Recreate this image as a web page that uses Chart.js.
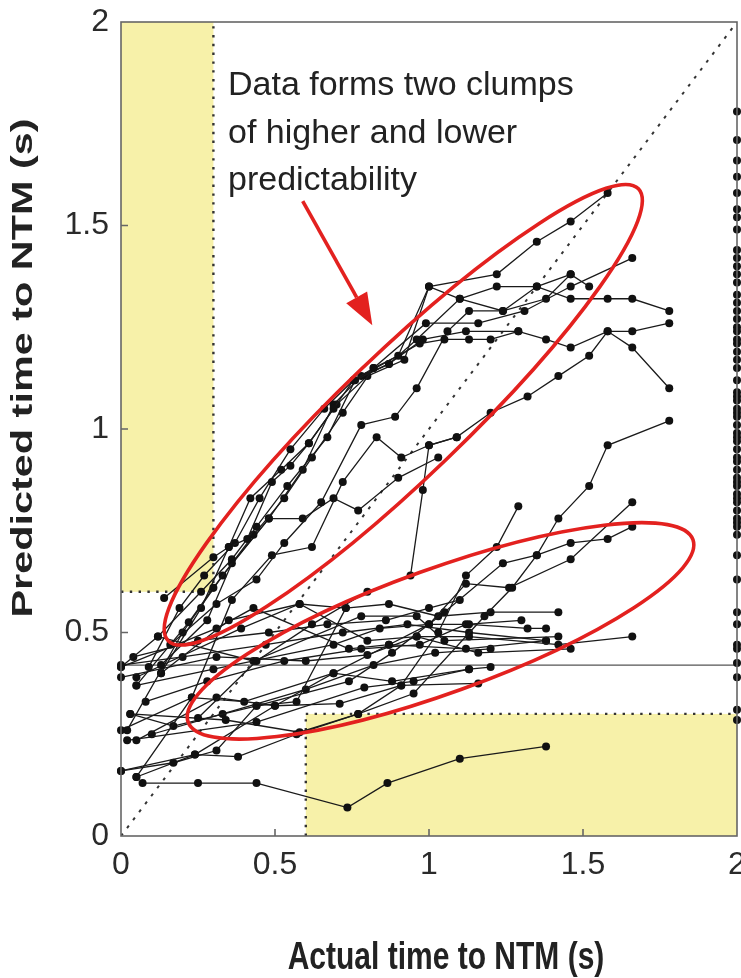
<!DOCTYPE html>
<html lang="en">
  <head>
    <meta charset="UTF-8" />
    <title>Predicted vs actual time to NTM</title>
    <style>
      body {
        margin: 0;
        background: #fff;
        overflow: hidden;
      }
      canvas {
        display: block;
      }
    </style>
  </head>
  <body>
    <canvas id="ntmChart" width="741" height="978"></canvas>

    <script src="https://cdn.jsdelivr.net/npm/chart.js"></script>
    <script>
      // tick labels on both axes
      const tickValues = [0, 0.5, 1, 1.5, 2];

      // trajectories in the upper clump (actual, predicted)
      const upperTracks = [
        [[0.14, 0.585], [0.3, 0.685], [0.35, 0.71], [0.41, 0.73], [0.49, 0.87], [0.55, 0.91], [0.61, 0.965], [0.69, 1.05], [0.755, 1.12], [0.82, 1.15], [0.9, 1.18], [1.0, 1.35], [1.22, 1.38], [1.35, 1.46], [1.46, 1.51], [1.58, 1.58]],
        [[0.0, 0.415], [0.12, 0.49], [0.26, 0.6], [0.36, 0.68], [0.44, 0.76], [0.54, 0.86], [0.67, 0.98], [0.76, 1.12], [0.87, 1.16], [0.96, 1.22], [1.1, 1.32], [1.22, 1.35], [1.35, 1.35], [1.46, 1.32], [1.58, 1.32], [1.66, 1.32], [1.78, 1.29]],
        [[0.05, 0.37], [0.22, 0.525], [0.3, 0.61], [0.43, 0.74], [0.53, 0.83], [0.62, 0.93], [0.72, 1.04], [0.82, 1.15], [0.99, 1.26], [1.16, 1.26], [1.31, 1.29], [1.46, 1.35], [1.66, 1.42]],
        [[0.13, 0.42], [0.28, 0.53], [0.36, 0.67], [0.48, 0.78], [0.59, 0.9], [0.69, 1.06], [0.78, 1.13], [0.97, 1.21], [1.05, 1.22], [1.13, 1.22], [1.2, 1.22], [1.29, 1.24], [1.38, 1.22], [1.46, 1.2], [1.58, 1.24], [1.66, 1.24], [1.78, 1.26]],
        [[0.16, 0.47], [0.31, 0.57], [0.44, 0.63], [0.53, 0.72], [0.65, 0.82], [0.78, 1.01], [0.89, 1.03], [0.96, 1.1], [1.06, 1.24], [1.13, 1.29], [1.24, 1.29], [1.38, 1.32], [1.46, 1.38], [1.52, 1.35]],
        [[0.05, 0.145], [0.23, 0.34], [0.36, 0.58], [0.49, 0.69], [0.62, 0.71], [0.72, 0.87], [0.83, 0.98], [0.91, 0.93], [1.0, 0.96], [1.09, 0.98], [1.2, 1.04], [1.32, 1.08], [1.42, 1.13], [1.52, 1.18], [1.58, 1.24], [1.66, 1.2], [1.78, 1.1]],
        [[0.25, 0.29], [0.44, 0.43], [0.62, 0.52], [0.8, 0.6], [0.94, 0.64], [0.98, 0.85], [1.0, 0.96], [1.09, 0.98]],
        [[0.02, 0.26], [0.2, 0.5], [0.33, 0.64], [0.48, 0.78], [0.59, 0.78], [0.69, 0.83], [0.77, 0.8], [0.9, 0.88], [1.03, 0.93]],
        [[0.09, 0.415], [0.19, 0.56], [0.27, 0.64], [0.37, 0.72], [0.45, 0.83], [0.55, 0.95], [0.66, 1.05], [0.755, 1.12], [0.87, 1.16], [0.98, 1.22], [1.12, 1.24], [1.29, 1.24]],
        [[0.13, 0.4], [0.26, 0.56], [0.35, 0.71], [0.42, 0.83], [0.52, 0.9], [0.61, 0.965], [0.7, 1.06], [0.8, 1.13], [0.92, 1.17], [1.0, 1.35], [1.1, 1.32], [1.24, 1.29], [1.35, 1.35], [1.46, 1.38]],
      ];

      // trajectories in the lower clump
      const lowerTracks = [
        [[0.0, 0.16], [0.24, 0.2], [0.38, 0.195], [0.57, 0.25], [0.77, 0.3], [0.95, 0.35], [1.18, 0.54], [1.27, 0.61], [1.35, 0.69], [1.42, 0.78], [1.52, 0.86], [1.58, 0.96], [1.78, 1.02]],
        [[0.05, 0.235], [0.31, 0.34], [0.5, 0.32], [0.71, 0.325], [0.91, 0.37], [1.03, 0.5], [1.12, 0.64], [1.22, 0.71], [1.29, 0.81]],
        [[0.0, 0.26], [0.23, 0.34], [0.4, 0.33], [0.69, 0.4], [0.87, 0.47], [1.0, 0.52], [1.12, 0.62], [1.26, 0.61], [1.46, 0.68], [1.66, 0.82]],
        [[0.03, 0.3], [0.17, 0.27], [0.44, 0.32], [0.74, 0.38], [0.88, 0.45], [1.05, 0.55], [1.24, 0.67], [1.35, 0.69], [1.46, 0.72], [1.58, 0.73], [1.66, 0.76]],
        [[0.13, 0.4], [0.35, 0.53], [0.58, 0.57], [0.73, 0.56], [0.87, 0.57], [1.03, 0.54], [1.2, 0.55], [1.42, 0.55]],
        [[0.0, 0.39], [0.31, 0.44], [0.6, 0.43], [0.8, 0.445], [0.96, 0.49], [1.13, 0.49], [1.42, 0.47], [1.66, 0.49]],
        [[0.05, 0.37], [0.3, 0.41], [0.69, 0.47], [0.84, 0.51], [1.0, 0.52], [1.13, 0.52], [1.32, 0.51], [1.38, 0.51]],
        [[0.12, 0.49], [0.43, 0.43], [0.78, 0.54], [0.96, 0.54], [1.05, 0.48], [1.42, 0.49]],
        [[0.0, 0.415], [0.31, 0.51], [0.43, 0.56], [0.74, 0.46], [0.87, 0.47], [1.12, 0.46], [1.38, 0.48]],
        [[0.05, 0.39], [0.39, 0.51], [0.58, 0.57], [0.8, 0.48], [0.96, 0.49], [1.16, 0.45], [1.46, 0.46]],
        [[0.02, 0.235], [0.44, 0.28], [0.79, 0.365], [0.95, 0.38], [1.13, 0.41], [1.2, 0.415]],
        [[0.03, 0.3], [0.34, 0.285], [0.58, 0.255], [0.77, 0.3], [0.91, 0.37], [1.16, 0.375]],
        [[0.07, 0.13], [0.25, 0.13], [0.44, 0.13], [0.735, 0.07], [0.865, 0.13], [1.1, 0.19], [1.38, 0.22]],
        [[0.0, 0.16], [0.17, 0.18], [0.31, 0.21], [0.44, 0.32], [0.57, 0.33], [0.73, 0.56]],
        [[0.05, 0.145], [0.24, 0.2], [0.5, 0.32], [0.69, 0.4], [0.88, 0.38], [1.13, 0.41]],
        [[0.0, 0.42], [0.2, 0.44], [0.47, 0.47], [0.72, 0.5], [0.93, 0.52], [1.13, 0.5], [1.38, 0.48]],
        [[0.08, 0.33], [0.28, 0.38], [0.53, 0.43], [0.78, 0.46], [0.97, 0.47], [1.12, 0.52], [1.3, 0.53]],
        [[0.1, 0.25], [0.33, 0.3], [0.6, 0.36], [0.82, 0.42], [1.02, 0.45], [1.2, 0.46]],
        [[0.04, 0.44], [0.25, 0.48], [0.48, 0.5], [0.67, 0.52], [0.86, 0.53], [1.0, 0.56], [1.1, 0.58]],
      ];

      // predictions stacked on the right edge (actual = 2)
      const edgeActual = 2;
      const edgePredicted = [
        1.78, 1.71, 1.66, 1.62, 1.58, 1.54, 1.52, 1.49, 1.44, 1.42, 1.4, 1.38, 1.36, 1.33, 1.31, 1.29, 1.27,
        1.25, 1.24, 1.22, 1.21, 1.19, 1.17, 1.15, 1.12, 1.09, 1.08, 1.07, 1.05, 1.04, 1.03, 1.01, 0.99, 0.98,
        0.97, 0.95, 0.93, 0.92, 0.9, 0.88, 0.87, 0.86, 0.84, 0.83, 0.82, 0.8, 0.78, 0.77, 0.76, 0.74, 0.69,
        0.63, 0.55, 0.52, 0.47, 0.46, 0.425, 0.39, 0.31, 0.285,
      ];

      // mean prediction and the y = x guide
      const meanPredicted = 0.42;
      const identityLine = [0, 2];

      // shaded "bad prediction" regions, in data units
      const shadedBoxes = [
        { x0: 0, x1: 0.3, y0: 0.6, y1: 2 },
        { x0: 0.6, x1: 2, y0: 0, y1: 0.3 },
      ];
      const dottedEdges = [
        [[0.3, 0.6], [0.3, 2]],
        [[0, 0.6], [0.3, 0.6]],
        [[0.6, 0], [0.6, 0.3]],
        [[0.6, 0.3], [2, 0.3]],
      ];

      // red annotation
      const clumps = [
        { from: [0.153, 0.48], to: [1.68, 1.59] },
        { from: [0.218, 0.28], to: [1.857, 0.728] },
      ];
      const clumpHalfWidth = 62;
      const arrowFrom = [0.59, 1.56];
      const arrowTo = [0.816, 1.255];
      const noteLines = ["Data forms two clumps", "of higher and lower", "predictability"];

      const xTitle = "Actual time to NTM (s)";
      const yTitle = "Predicted time to NTM (s)";

      const RED = "#e3211f";
      const FONT = '"Liberation Sans", Arial, Helvetica, sans-serif';

      function toPoints(track) {
        return track.map(([x, y]) => ({ x: x, y: y }));
      }

      function trackDataset(track) {
        return {
          data: toPoints(track),
          showLine: true,
          borderColor: "#1a1a1a",
          borderWidth: 1.3,
          pointRadius: 4,
          pointBackgroundColor: "#111",
          pointBorderWidth: 0,
          clip: false,
          order: 1,
        };
      }

      const datasets = [];
      upperTracks.concat(lowerTracks).forEach((t) => datasets.push(trackDataset(t)));
      datasets.push({
        data: edgePredicted.map((v) => ({ x: edgeActual, y: v })),
        showLine: false,
        pointRadius: 4,
        pointBackgroundColor: "#111",
        pointBorderWidth: 0,
        clip: false,
        order: 1,
      });
      datasets.push({
        data: identityLine.map((v) => ({ x: v, y: v })),
        showLine: true,
        borderColor: "#333",
        borderWidth: 2,
        borderDash: [3, 7],
        pointRadius: 0,
        order: 5,
      });
      datasets.push({
        data: [
          { x: 0, y: meanPredicted },
          { x: 2, y: meanPredicted },
        ],
        showLine: true,
        borderColor: "#555",
        borderWidth: 1.3,
        pointRadius: 0,
        order: 5,
      });

      function px(chart, p) {
        return [chart.scales.x.getPixelForValue(p[0]), chart.scales.y.getPixelForValue(p[1])];
      }

      const decorations = {
        id: "decorations",
        beforeDatasetsDraw(chart) {
          const { ctx } = chart;
          ctx.save();
          ctx.fillStyle = "#f7f1a9";
          shadedBoxes.forEach((b) => {
            const [l, t] = px(chart, [b.x0, b.y1]);
            const [r, btm] = px(chart, [b.x1, b.y0]);
            ctx.fillRect(l, t, r - l, btm - t);
          });
          ctx.strokeStyle = "#333";
          ctx.lineWidth = 2.4;
          ctx.setLineDash([2.4, 6.4]);
          dottedEdges.forEach(([a, b]) => {
            const p = px(chart, a);
            const q = px(chart, b);
            ctx.beginPath();
            ctx.moveTo(p[0], p[1]);
            ctx.lineTo(q[0], q[1]);
            ctx.stroke();
          });
          ctx.restore();
        },
        afterDatasetsDraw(chart) {
          const { ctx, chartArea: a } = chart;
          ctx.save();

          // frame and inward ticks
          ctx.strokeStyle = "#666";
          ctx.lineWidth = 1.6;
          ctx.strokeRect(a.left, a.top, a.right - a.left, a.bottom - a.top);
          ctx.beginPath();
          tickValues.slice(1, -1).forEach((v) => {
            const xp = chart.scales.x.getPixelForValue(v);
            const yp = chart.scales.y.getPixelForValue(v);
            ctx.moveTo(xp, a.bottom);
            ctx.lineTo(xp, a.bottom - 7);
            ctx.moveTo(a.left, yp);
            ctx.lineTo(a.left + 7, yp);
          });
          ctx.stroke();

          // red ellipses round the clumps
          ctx.strokeStyle = RED;
          ctx.lineWidth = 3.6;
          clumps.forEach((c) => {
            const [ax, ay] = px(chart, c.from);
            const [bx, by] = px(chart, c.to);
            const rx = Math.hypot(bx - ax, by - ay) / 2;
            const rot = Math.atan2(by - ay, bx - ax);
            ctx.beginPath();
            ctx.ellipse((ax + bx) / 2, (ay + by) / 2, rx, clumpHalfWidth, rot, 0, Math.PI * 2);
            ctx.stroke();
          });

          // arrow
          const [sx, sy] = px(chart, arrowFrom);
          const [tx, ty] = px(chart, arrowTo);
          const ang = Math.atan2(ty - sy, tx - sx);
          const headLen = 32;
          const headHalf = 12;
          const bx = tx - headLen * Math.cos(ang);
          const by = ty - headLen * Math.sin(ang);
          ctx.beginPath();
          ctx.moveTo(sx, sy);
          ctx.lineTo(bx, by);
          ctx.stroke();
          ctx.fillStyle = RED;
          ctx.beginPath();
          ctx.moveTo(tx, ty);
          ctx.lineTo(bx - headHalf * Math.sin(ang), by + headHalf * Math.cos(ang));
          ctx.lineTo(bx + headHalf * Math.sin(ang), by - headHalf * Math.cos(ang));
          ctx.closePath();
          ctx.fill();

          // note text
          ctx.fillStyle = "#222";
          ctx.font = "34px " + FONT;
          ctx.textAlign = "left";
          ctx.textBaseline = "alphabetic";
          noteLines.forEach((line, i) => ctx.fillText(line, 228, 95 + i * 47.5));

          // axis titles (the figure is stretched vertically)
          ctx.font = "bold 30px " + FONT;
          ctx.textAlign = "center";
          ctx.textBaseline = "middle";
          ctx.save();
          ctx.translate(446, 958);
          ctx.scale(1, 1.3);
          ctx.fillText(xTitle, 0, 0);
          ctx.restore();
          ctx.save();
          ctx.translate(24, 368);
          ctx.rotate(-Math.PI / 2);
          ctx.scale(1.38, 1);
          ctx.fillText(yTitle, 0, 0);
          ctx.restore();

          ctx.restore();
        },
      };

      const axisTicks = {
        font: { size: 32, family: FONT },
        color: "#2a2a2a",
        callback: (v) => String(v),
      };

      new Chart(document.getElementById("ntmChart").getContext("2d"), {
        type: "scatter",
        data: { datasets: datasets },
        options: {
          responsive: false,
          animation: false,
          layout: { padding: { top: 22, right: 4, left: 0, bottom: 0 } },
          plugins: {
            legend: { display: false },
            tooltip: { enabled: false },
          },
          scales: {
            x: {
              type: "linear",
              min: 0,
              max: 2,
              afterBuildTicks: (s) => {
                s.ticks = tickValues.map((v) => ({ value: v }));
              },
              afterFit: (s) => {
                s.height = 142;
                s.paddingLeft = 0;
                s.paddingRight = 0;
              },
              ticks: Object.assign({ padding: 10, maxRotation: 0 }, axisTicks),
              grid: { display: false, drawTicks: false },
              border: { display: false },
            },
            y: {
              type: "linear",
              min: 0,
              max: 2,
              afterBuildTicks: (s) => {
                s.ticks = tickValues.map((v) => ({ value: v }));
              },
              afterFit: (s) => {
                s.width = 121;
                s.paddingTop = 0;
                s.paddingBottom = 0;
              },
              ticks: Object.assign({ padding: 12 }, axisTicks),
              grid: { display: false, drawTicks: false },
              border: { display: false },
            },
          },
        },
        plugins: [decorations],
      });
    </script>
  </body>
</html>
